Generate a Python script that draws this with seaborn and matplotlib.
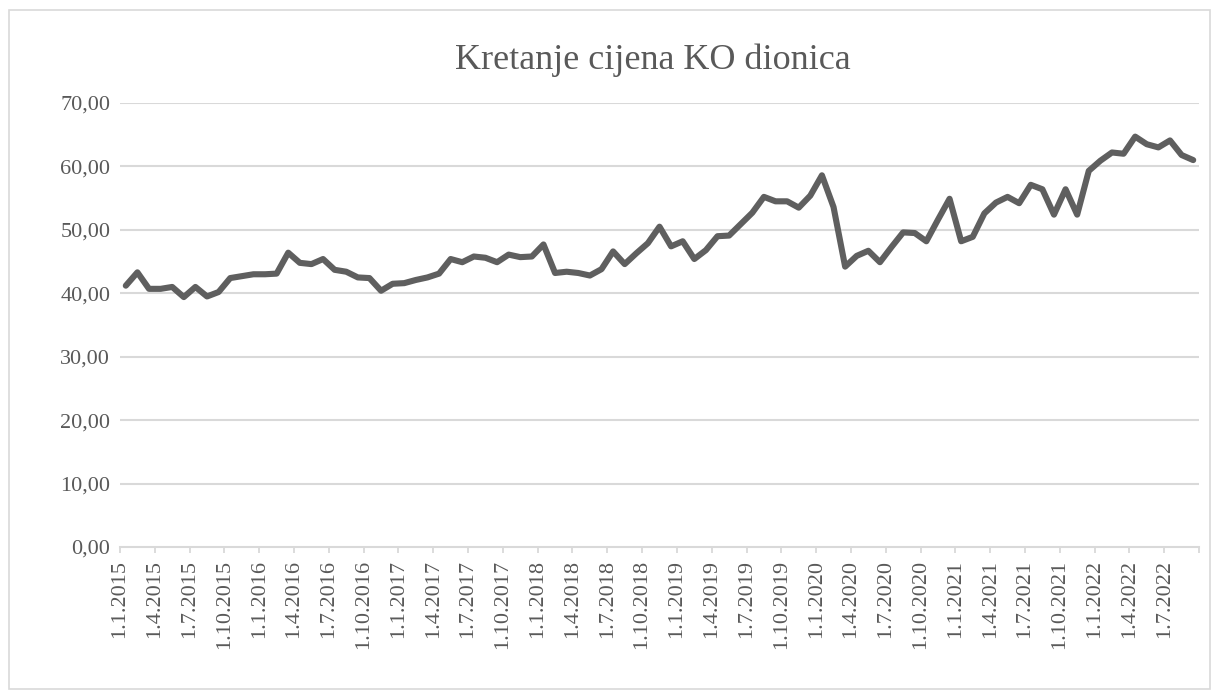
import matplotlib
matplotlib.use("Agg")
import matplotlib.pyplot as plt
import seaborn as sns
import pandas as pd
from matplotlib.patches import Rectangle

# Monthly closing prices, 1.1.2015 .. 1.9.2022 (93 months)
prices = [
    41.2, 43.3, 40.7, 40.7, 41.0, 39.4, 41.0, 39.5, 40.2, 42.4,
    42.7, 43.0, 43.0, 43.1, 46.4, 44.8, 44.6, 45.4, 43.7, 43.4,
    42.5, 42.4, 40.4, 41.5, 41.6, 42.1, 42.5, 43.1, 45.4, 44.9,
    45.8, 45.6, 44.9, 46.1, 45.7, 45.8, 47.7, 43.2, 43.4, 43.2,
    42.8, 43.8, 46.6, 44.6, 46.3, 47.9, 50.5, 47.4, 48.2, 45.4,
    46.8, 49.0, 49.1, 50.9, 52.7, 55.2, 54.5, 54.5, 53.5, 55.4,
    58.6, 53.6, 44.2, 45.9, 46.7, 44.9, 47.3, 49.6, 49.5, 48.2,
    51.6, 54.9, 48.2, 48.9, 52.6, 54.3, 55.2, 54.2, 57.1, 56.4,
    52.4, 56.4, 52.4, 59.3, 60.9, 62.2, 62.0, 64.7, 63.5, 63.0,
    64.1, 61.8, 61.0,
]

tick_labels = [
    "1.1.2015", "1.4.2015", "1.7.2015", "1.10.2015",
    "1.1.2016", "1.4.2016", "1.7.2016", "1.10.2016",
    "1.1.2017", "1.4.2017", "1.7.2017", "1.10.2017",
    "1.1.2018", "1.4.2018", "1.7.2018", "1.10.2018",
    "1.1.2019", "1.4.2019", "1.7.2019", "1.10.2019",
    "1.1.2020", "1.4.2020", "1.7.2020", "1.10.2020",
    "1.1.2021", "1.4.2021", "1.7.2021", "1.10.2021",
    "1.1.2022", "1.4.2022", "1.7.2022",
]

y_ticks = [0, 10, 20, 30, 40, 50, 60, 70]
title = "Kretanje cijena KO dionica"

sns.set_theme(style="white")
plt.rcParams["font.family"] = ["Liberation Serif", "DejaVu Serif"]

W, H, DPI = 1219, 691, 100
fig = plt.figure(figsize=(W / DPI, H / DPI), dpi=DPI)
fig.patch.set_facecolor("white")

left, right, top, bottom = 120, 1199, 103, 547
ax = fig.add_axes([left / W, 1 - bottom / H, (right - left) / W, (bottom - top) / H])

df = pd.DataFrame({"m": [i + 0.5 for i in range(len(prices))], "price": prices})

grid_c = "#d9d9d9"
text_c = "#595959"
line_c = "#5f5f5f"

for v in y_ticks[1:]:
    ax.axhline(v, color=grid_c, lw=1.5, zorder=0)

sns.lineplot(data=df, x="m", y="price", ax=ax, color=line_c, linewidth=4.4,
             solid_joinstyle="round", solid_capstyle="round", zorder=3)

ax.set_xlim(0, len(prices))
ax.set_ylim(0, 70)
ax.set_xlabel("")
ax.set_ylabel("")

ax.set_yticks(y_ticks)
ax.set_yticklabels([f"{v:.2f}".replace(".", ",") for v in y_ticks],
                   fontsize=16, color=text_c)
ax.set_xticks([3 * k for k in range(len(tick_labels))] + [len(prices)])
ax.set_xticklabels(tick_labels + [""], rotation=90, fontsize=16, color=text_c)

ax.tick_params(axis="y", length=0, pad=7)
ax.tick_params(axis="x", direction="out", length=4, width=1.3, color=grid_c, pad=5, bottom=True)

for s in ["top", "right", "left"]:
    ax.spines[s].set_visible(False)
ax.spines["bottom"].set_color(grid_c)
ax.spines["bottom"].set_linewidth(1.5)
ax.spines["bottom"].set_zorder(1)

fig.text(653 / W, 1 - 60 / H, title, ha="center", va="center", fontsize=26, color=text_c)

fig.patches.append(Rectangle((9 / W, 1 - 689 / H), 1201 / W, 679 / H, transform=fig.transFigure,
                             fill=False, edgecolor=grid_c, linewidth=1.2))

fig.savefig("out.png", dpi=DPI)
